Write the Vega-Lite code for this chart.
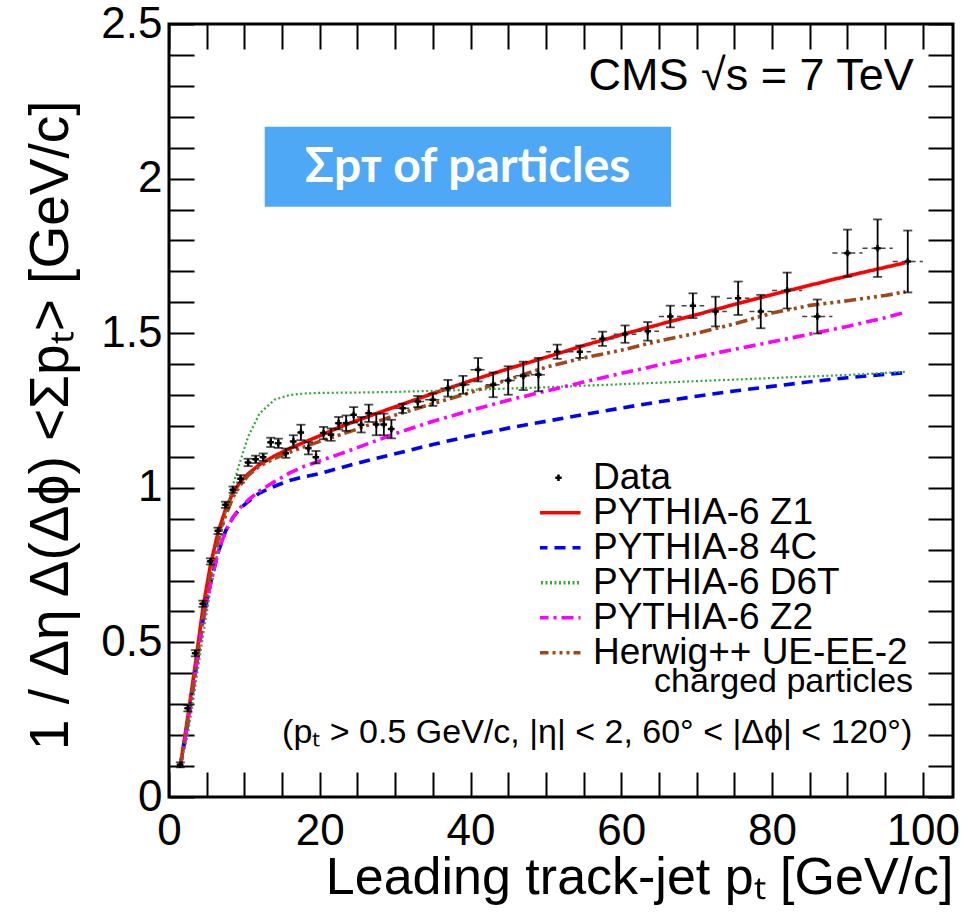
{
  "$schema": "https://vega.github.io/schema/vega-lite/v6.json",
  "width": 784,
  "height": 773,
  "autosize": {"type": "none"},
  "padding": {"left": 169, "top": 24, "right": 18, "bottom": 120},
  "background": "white",
  "config": {
    "view": {"stroke": "black", "strokeWidth": 3},
    "font": "Liberation Sans",
    "axis": {"labelFont": "Liberation Sans", "titleFont": "Liberation Sans", "labelColor": "black", "titleColor": "black", "titleFontWeight": "normal"}
  },
  "datasets": {
    "curves": [
      {"m": "PYTHIA-6 Z1", "x": 1.5, "y": 0.10}, {"m": "PYTHIA-6 Z1", "x": 2.5, "y": 0.26}, {"m": "PYTHIA-6 Z1", "x": 3.5, "y": 0.43}, {"m": "PYTHIA-6 Z1", "x": 4.5, "y": 0.61}, {"m": "PYTHIA-6 Z1", "x": 5.5, "y": 0.75}, {"m": "PYTHIA-6 Z1", "x": 6.5, "y": 0.855}, {"m": "PYTHIA-6 Z1", "x": 7.5, "y": 0.93}, {"m": "PYTHIA-6 Z1", "x": 8.5, "y": 0.985}, {"m": "PYTHIA-6 Z1", "x": 9.5, "y": 1.02}, {"m": "PYTHIA-6 Z1", "x": 10.5, "y": 1.045}, {"m": "PYTHIA-6 Z1", "x": 12, "y": 1.075}, {"m": "PYTHIA-6 Z1", "x": 14, "y": 1.103}, {"m": "PYTHIA-6 Z1", "x": 16, "y": 1.127}, {"m": "PYTHIA-6 Z1", "x": 18, "y": 1.148}, {"m": "PYTHIA-6 Z1", "x": 20, "y": 1.168}, {"m": "PYTHIA-6 Z1", "x": 22.5, "y": 1.195}, {"m": "PYTHIA-6 Z1", "x": 25, "y": 1.218}, {"m": "PYTHIA-6 Z1", "x": 30, "y": 1.262}, {"m": "PYTHIA-6 Z1", "x": 35, "y": 1.305}, {"m": "PYTHIA-6 Z1", "x": 40, "y": 1.346}, {"m": "PYTHIA-6 Z1", "x": 45, "y": 1.385}, {"m": "PYTHIA-6 Z1", "x": 50, "y": 1.422}, {"m": "PYTHIA-6 Z1", "x": 55, "y": 1.46}, {"m": "PYTHIA-6 Z1", "x": 60, "y": 1.495}, {"m": "PYTHIA-6 Z1", "x": 65, "y": 1.528}, {"m": "PYTHIA-6 Z1", "x": 70, "y": 1.56}, {"m": "PYTHIA-6 Z1", "x": 75, "y": 1.593}, {"m": "PYTHIA-6 Z1", "x": 80, "y": 1.625}, {"m": "PYTHIA-6 Z1", "x": 85, "y": 1.655}, {"m": "PYTHIA-6 Z1", "x": 90, "y": 1.685}, {"m": "PYTHIA-6 Z1", "x": 95, "y": 1.713}, {"m": "PYTHIA-6 Z1", "x": 97.7, "y": 1.728},
      {"m": "PYTHIA-8 4C", "x": 1.5, "y": 0.10}, {"m": "PYTHIA-8 4C", "x": 2.5, "y": 0.24}, {"m": "PYTHIA-8 4C", "x": 3.5, "y": 0.40}, {"m": "PYTHIA-8 4C", "x": 4.5, "y": 0.57}, {"m": "PYTHIA-8 4C", "x": 5.5, "y": 0.69}, {"m": "PYTHIA-8 4C", "x": 6.5, "y": 0.79}, {"m": "PYTHIA-8 4C", "x": 7.5, "y": 0.86}, {"m": "PYTHIA-8 4C", "x": 8.5, "y": 0.905}, {"m": "PYTHIA-8 4C", "x": 9.5, "y": 0.935}, {"m": "PYTHIA-8 4C", "x": 10.5, "y": 0.955}, {"m": "PYTHIA-8 4C", "x": 12, "y": 0.983}, {"m": "PYTHIA-8 4C", "x": 14, "y": 1.005}, {"m": "PYTHIA-8 4C", "x": 16, "y": 1.024}, {"m": "PYTHIA-8 4C", "x": 18, "y": 1.036}, {"m": "PYTHIA-8 4C", "x": 20, "y": 1.046}, {"m": "PYTHIA-8 4C", "x": 22.5, "y": 1.063}, {"m": "PYTHIA-8 4C", "x": 25, "y": 1.08}, {"m": "PYTHIA-8 4C", "x": 30, "y": 1.11}, {"m": "PYTHIA-8 4C", "x": 35, "y": 1.14}, {"m": "PYTHIA-8 4C", "x": 40, "y": 1.168}, {"m": "PYTHIA-8 4C", "x": 45, "y": 1.193}, {"m": "PYTHIA-8 4C", "x": 50, "y": 1.215}, {"m": "PYTHIA-8 4C", "x": 55, "y": 1.237}, {"m": "PYTHIA-8 4C", "x": 60, "y": 1.258}, {"m": "PYTHIA-8 4C", "x": 65, "y": 1.278}, {"m": "PYTHIA-8 4C", "x": 70, "y": 1.296}, {"m": "PYTHIA-8 4C", "x": 75, "y": 1.313}, {"m": "PYTHIA-8 4C", "x": 80, "y": 1.328}, {"m": "PYTHIA-8 4C", "x": 85, "y": 1.343}, {"m": "PYTHIA-8 4C", "x": 90, "y": 1.356}, {"m": "PYTHIA-8 4C", "x": 95, "y": 1.367}, {"m": "PYTHIA-8 4C", "x": 97.7, "y": 1.372},
      {"m": "PYTHIA-6 D6T", "x": 1.5, "y": 0.10}, {"m": "PYTHIA-6 D6T", "x": 2.5, "y": 0.20}, {"m": "PYTHIA-6 D6T", "x": 3.5, "y": 0.36}, {"m": "PYTHIA-6 D6T", "x": 4.5, "y": 0.52}, {"m": "PYTHIA-6 D6T", "x": 5.5, "y": 0.67}, {"m": "PYTHIA-6 D6T", "x": 6.5, "y": 0.80}, {"m": "PYTHIA-6 D6T", "x": 7.5, "y": 0.92}, {"m": "PYTHIA-6 D6T", "x": 8.5, "y": 1.01}, {"m": "PYTHIA-6 D6T", "x": 9.5, "y": 1.09}, {"m": "PYTHIA-6 D6T", "x": 10.5, "y": 1.165}, {"m": "PYTHIA-6 D6T", "x": 12, "y": 1.24}, {"m": "PYTHIA-6 D6T", "x": 14, "y": 1.285}, {"m": "PYTHIA-6 D6T", "x": 16, "y": 1.30}, {"m": "PYTHIA-6 D6T", "x": 18, "y": 1.305}, {"m": "PYTHIA-6 D6T", "x": 20, "y": 1.307}, {"m": "PYTHIA-6 D6T", "x": 25, "y": 1.308}, {"m": "PYTHIA-6 D6T", "x": 30, "y": 1.31}, {"m": "PYTHIA-6 D6T", "x": 40, "y": 1.317}, {"m": "PYTHIA-6 D6T", "x": 50, "y": 1.325}, {"m": "PYTHIA-6 D6T", "x": 60, "y": 1.335}, {"m": "PYTHIA-6 D6T", "x": 70, "y": 1.345}, {"m": "PYTHIA-6 D6T", "x": 80, "y": 1.355}, {"m": "PYTHIA-6 D6T", "x": 90, "y": 1.365}, {"m": "PYTHIA-6 D6T", "x": 97.7, "y": 1.375},
      {"m": "PYTHIA-6 Z2", "x": 1.5, "y": 0.10}, {"m": "PYTHIA-6 Z2", "x": 2.5, "y": 0.24}, {"m": "PYTHIA-6 Z2", "x": 3.5, "y": 0.40}, {"m": "PYTHIA-6 Z2", "x": 4.5, "y": 0.57}, {"m": "PYTHIA-6 Z2", "x": 5.5, "y": 0.69}, {"m": "PYTHIA-6 Z2", "x": 6.5, "y": 0.79}, {"m": "PYTHIA-6 Z2", "x": 7.5, "y": 0.86}, {"m": "PYTHIA-6 Z2", "x": 8.5, "y": 0.905}, {"m": "PYTHIA-6 Z2", "x": 9.5, "y": 0.937}, {"m": "PYTHIA-6 Z2", "x": 10.5, "y": 0.96}, {"m": "PYTHIA-6 Z2", "x": 12, "y": 0.99}, {"m": "PYTHIA-6 Z2", "x": 14, "y": 1.02}, {"m": "PYTHIA-6 Z2", "x": 16, "y": 1.048}, {"m": "PYTHIA-6 Z2", "x": 18, "y": 1.07}, {"m": "PYTHIA-6 Z2", "x": 20, "y": 1.087}, {"m": "PYTHIA-6 Z2", "x": 22.5, "y": 1.108}, {"m": "PYTHIA-6 Z2", "x": 25, "y": 1.13}, {"m": "PYTHIA-6 Z2", "x": 30, "y": 1.175}, {"m": "PYTHIA-6 Z2", "x": 35, "y": 1.215}, {"m": "PYTHIA-6 Z2", "x": 40, "y": 1.25}, {"m": "PYTHIA-6 Z2", "x": 45, "y": 1.283}, {"m": "PYTHIA-6 Z2", "x": 50, "y": 1.313}, {"m": "PYTHIA-6 Z2", "x": 55, "y": 1.342}, {"m": "PYTHIA-6 Z2", "x": 60, "y": 1.37}, {"m": "PYTHIA-6 Z2", "x": 65, "y": 1.397}, {"m": "PYTHIA-6 Z2", "x": 70, "y": 1.423}, {"m": "PYTHIA-6 Z2", "x": 75, "y": 1.448}, {"m": "PYTHIA-6 Z2", "x": 80, "y": 1.472}, {"m": "PYTHIA-6 Z2", "x": 85, "y": 1.497}, {"m": "PYTHIA-6 Z2", "x": 90, "y": 1.522}, {"m": "PYTHIA-6 Z2", "x": 95, "y": 1.55}, {"m": "PYTHIA-6 Z2", "x": 97.7, "y": 1.568},
      {"m": "Herwig++ UE-EE-2", "x": 1.5, "y": 0.10}, {"m": "Herwig++ UE-EE-2", "x": 2.5, "y": 0.25}, {"m": "Herwig++ UE-EE-2", "x": 3.5, "y": 0.41}, {"m": "Herwig++ UE-EE-2", "x": 4.5, "y": 0.58}, {"m": "Herwig++ UE-EE-2", "x": 5.5, "y": 0.72}, {"m": "Herwig++ UE-EE-2", "x": 6.5, "y": 0.83}, {"m": "Herwig++ UE-EE-2", "x": 7.5, "y": 0.91}, {"m": "Herwig++ UE-EE-2", "x": 8.5, "y": 0.97}, {"m": "Herwig++ UE-EE-2", "x": 9.5, "y": 1.01}, {"m": "Herwig++ UE-EE-2", "x": 10.5, "y": 1.04}, {"m": "Herwig++ UE-EE-2", "x": 12, "y": 1.07}, {"m": "Herwig++ UE-EE-2", "x": 14, "y": 1.095}, {"m": "Herwig++ UE-EE-2", "x": 16, "y": 1.115}, {"m": "Herwig++ UE-EE-2", "x": 18, "y": 1.133}, {"m": "Herwig++ UE-EE-2", "x": 20, "y": 1.15}, {"m": "Herwig++ UE-EE-2", "x": 22.5, "y": 1.17}, {"m": "Herwig++ UE-EE-2", "x": 25, "y": 1.19}, {"m": "Herwig++ UE-EE-2", "x": 30, "y": 1.235}, {"m": "Herwig++ UE-EE-2", "x": 35, "y": 1.272}, {"m": "Herwig++ UE-EE-2", "x": 40, "y": 1.308}, {"m": "Herwig++ UE-EE-2", "x": 45, "y": 1.35}, {"m": "Herwig++ UE-EE-2", "x": 50, "y": 1.39}, {"m": "Herwig++ UE-EE-2", "x": 55, "y": 1.42}, {"m": "Herwig++ UE-EE-2", "x": 60, "y": 1.445}, {"m": "Herwig++ UE-EE-2", "x": 65, "y": 1.475}, {"m": "Herwig++ UE-EE-2", "x": 70, "y": 1.50}, {"m": "Herwig++ UE-EE-2", "x": 75, "y": 1.53}, {"m": "Herwig++ UE-EE-2", "x": 80, "y": 1.565}, {"m": "Herwig++ UE-EE-2", "x": 85, "y": 1.59}, {"m": "Herwig++ UE-EE-2", "x": 90, "y": 1.605}, {"m": "Herwig++ UE-EE-2", "x": 95, "y": 1.622}, {"m": "Herwig++ UE-EE-2", "x": 97.7, "y": 1.634}
    ],
    "points": [
      {"x": 1.5, "y": 0.104, "ylo": 0.096, "yhi": 0.112, "xlo": 1, "xhi": 2},
      {"x": 2.5, "y": 0.287, "ylo": 0.277, "yhi": 0.297, "xlo": 2, "xhi": 3},
      {"x": 3.5, "y": 0.465, "ylo": 0.455, "yhi": 0.475, "xlo": 3, "xhi": 4},
      {"x": 4.5, "y": 0.625, "ylo": 0.615, "yhi": 0.635, "xlo": 4, "xhi": 5},
      {"x": 5.5, "y": 0.762, "ylo": 0.752, "yhi": 0.772, "xlo": 5, "xhi": 6},
      {"x": 6.5, "y": 0.861, "ylo": 0.851, "yhi": 0.871, "xlo": 6, "xhi": 7},
      {"x": 7.5, "y": 0.945, "ylo": 0.935, "yhi": 0.955, "xlo": 7, "xhi": 8},
      {"x": 8.5, "y": 0.994, "ylo": 0.984, "yhi": 1.004, "xlo": 8, "xhi": 9},
      {"x": 9.5, "y": 1.029, "ylo": 1.017, "yhi": 1.041, "xlo": 9, "xhi": 10},
      {"x": 10.5, "y": 1.082, "ylo": 1.07, "yhi": 1.094, "xlo": 10, "xhi": 11},
      {"x": 11.5, "y": 1.092, "ylo": 1.08, "yhi": 1.104, "xlo": 11, "xhi": 12},
      {"x": 12.5, "y": 1.099, "ylo": 1.087, "yhi": 1.111, "xlo": 12, "xhi": 13},
      {"x": 13.5, "y": 1.147, "ylo": 1.132, "yhi": 1.162, "xlo": 13, "xhi": 14},
      {"x": 14.5, "y": 1.144, "ylo": 1.129, "yhi": 1.159, "xlo": 14, "xhi": 15},
      {"x": 15.5, "y": 1.112, "ylo": 1.097, "yhi": 1.127, "xlo": 15, "xhi": 16},
      {"x": 16.5, "y": 1.15, "ylo": 1.13, "yhi": 1.17, "xlo": 16, "xhi": 17},
      {"x": 17.5, "y": 1.179, "ylo": 1.154, "yhi": 1.204, "xlo": 17, "xhi": 18},
      {"x": 18.5, "y": 1.128, "ylo": 1.108, "yhi": 1.148, "xlo": 18, "xhi": 19},
      {"x": 19.5, "y": 1.099, "ylo": 1.079, "yhi": 1.119, "xlo": 19, "xhi": 20},
      {"x": 20.5, "y": 1.177, "ylo": 1.157, "yhi": 1.197, "xlo": 20, "xhi": 21},
      {"x": 21.5, "y": 1.172, "ylo": 1.152, "yhi": 1.192, "xlo": 21, "xhi": 22},
      {"x": 22.5, "y": 1.209, "ylo": 1.189, "yhi": 1.229, "xlo": 22, "xhi": 23},
      {"x": 23.5, "y": 1.209, "ylo": 1.184, "yhi": 1.234, "xlo": 23, "xhi": 24},
      {"x": 24.5, "y": 1.236, "ylo": 1.211, "yhi": 1.261, "xlo": 24, "xhi": 25},
      {"x": 25.5, "y": 1.204, "ylo": 1.179, "yhi": 1.229, "xlo": 25, "xhi": 26},
      {"x": 26.5, "y": 1.241, "ylo": 1.213, "yhi": 1.269, "xlo": 26, "xhi": 27},
      {"x": 27.5, "y": 1.205, "ylo": 1.17, "yhi": 1.24, "xlo": 27, "xhi": 28},
      {"x": 28.5, "y": 1.205, "ylo": 1.17, "yhi": 1.24, "xlo": 28, "xhi": 29},
      {"x": 29.5, "y": 1.19, "ylo": 1.16, "yhi": 1.22, "xlo": 29, "xhi": 30},
      {"x": 31, "y": 1.257, "ylo": 1.242, "yhi": 1.272, "xlo": 30, "xhi": 32},
      {"x": 33, "y": 1.279, "ylo": 1.261, "yhi": 1.297, "xlo": 32, "xhi": 34},
      {"x": 35, "y": 1.285, "ylo": 1.265, "yhi": 1.305, "xlo": 34, "xhi": 36},
      {"x": 37, "y": 1.322, "ylo": 1.295, "yhi": 1.349, "xlo": 36, "xhi": 38},
      {"x": 39, "y": 1.333, "ylo": 1.304, "yhi": 1.362, "xlo": 38, "xhi": 40},
      {"x": 41, "y": 1.382, "ylo": 1.344, "yhi": 1.42, "xlo": 40, "xhi": 42},
      {"x": 43, "y": 1.333, "ylo": 1.293, "yhi": 1.373, "xlo": 42, "xhi": 44},
      {"x": 45, "y": 1.347, "ylo": 1.301, "yhi": 1.393, "xlo": 44, "xhi": 46},
      {"x": 47, "y": 1.362, "ylo": 1.316, "yhi": 1.408, "xlo": 46, "xhi": 48},
      {"x": 49, "y": 1.366, "ylo": 1.312, "yhi": 1.42, "xlo": 48, "xhi": 50},
      {"x": 51.5, "y": 1.44, "ylo": 1.417, "yhi": 1.463, "xlo": 50, "xhi": 53},
      {"x": 54.5, "y": 1.44, "ylo": 1.42, "yhi": 1.46, "xlo": 53, "xhi": 56},
      {"x": 57.5, "y": 1.482, "ylo": 1.459, "yhi": 1.505, "xlo": 56, "xhi": 59},
      {"x": 60.5, "y": 1.497, "ylo": 1.469, "yhi": 1.525, "xlo": 59, "xhi": 62},
      {"x": 63.5, "y": 1.506, "ylo": 1.476, "yhi": 1.536, "xlo": 62, "xhi": 65},
      {"x": 66.5, "y": 1.554, "ylo": 1.519, "yhi": 1.589, "xlo": 65, "xhi": 68},
      {"x": 69.5, "y": 1.589, "ylo": 1.549, "yhi": 1.629, "xlo": 68, "xhi": 71},
      {"x": 72.5, "y": 1.57, "ylo": 1.522, "yhi": 1.618, "xlo": 71, "xhi": 74},
      {"x": 75.5, "y": 1.613, "ylo": 1.559, "yhi": 1.667, "xlo": 74, "xhi": 77},
      {"x": 78.5, "y": 1.57, "ylo": 1.516, "yhi": 1.624, "xlo": 77, "xhi": 80},
      {"x": 82, "y": 1.638, "ylo": 1.58, "yhi": 1.696, "xlo": 80, "xhi": 84},
      {"x": 86, "y": 1.554, "ylo": 1.499, "yhi": 1.609, "xlo": 84, "xhi": 88},
      {"x": 90, "y": 1.759, "ylo": 1.683, "yhi": 1.835, "xlo": 88, "xhi": 92},
      {"x": 94, "y": 1.775, "ylo": 1.682, "yhi": 1.868, "xlo": 92, "xhi": 96},
      {"x": 98, "y": 1.732, "ylo": 1.632, "yhi": 1.832, "xlo": 96, "xhi": 100}
    ]
  },
  "layer": [
    {
      "data": {"values": [{}]},
      "mark": {"type": "rect", "color": "#4fa8f6"},
      "encoding": {
        "x": {"datum": 12.7, "type": "quantitative", "scale": {"domain": [0, 104], "nice": false, "zero": false}, "axis": null},
        "x2": {"datum": 66.6},
        "y": {"datum": 2.168, "type": "quantitative", "scale": {"domain": [0, 2.5], "nice": false, "zero": false}, "axis": null},
        "y2": {"datum": 1.909}
      }
    },
    {
      "data": {"values": [{}]},
      "mark": {"type": "text", "text": "Σpᴛ of particles", "font": "Lato", "fontWeight": "bold", "fontSize": 48, "color": "white", "align": "center", "baseline": "middle"},
      "encoding": {
        "x": {"datum": 39.6, "type": "quantitative", "scale": {"domain": [0, 104], "nice": false, "zero": false}, "axis": null},
        "y": {"datum": 2.035, "type": "quantitative", "scale": {"domain": [0, 2.5], "nice": false, "zero": false}, "axis": null}
      }
    },
    {
      "data": {"name": "curves"},
      "mark": {"type": "line", "strokeCap": "butt"},
      "encoding": {
        "x": {"field": "x", "type": "quantitative", "scale": {"domain": [0, 104], "nice": false, "zero": false},
          "axis": {"orient": "bottom", "values": [0,5,10,15,20,25,30,35,40,45,50,55,60,65,70,75,80,85,90,95,100], "domain": false, "grid": false, "ticks": true, "tickSize": -25, "tickWidth": 2, "tickColor": "black",
            "encode": {"ticks": {"update": {"y2": {"signal": "datum.value % 20 === 0 ? -25 : -12"}}}},
            "labelExpr": "datum.value % 20 === 0 ? datum.label : ''", "labelFontSize": 44, "labelPadding": 37, "labelFlush": false, "labelOverlap": false,
            "title": "Leading track-jet pₜ [GeV/c]", "titleFontSize": 52, "titleAlign": "right", "titleAnchor": "end", "titleX": 784, "titleY": 96, "titleBaseline": "alphabetic"}},
        "y": {"field": "y", "type": "quantitative", "scale": {"domain": [0, 2.5], "nice": false, "zero": false},
          "axis": {"orient": "left", "values": [0,0.1,0.2,0.3,0.4,0.5,0.6,0.7,0.8,0.9,1,1.1,1.2,1.3,1.4,1.5,1.6,1.7,1.8,1.9,2,2.1,2.2,2.3,2.4,2.5], "domain": false, "grid": false, "ticks": true, "tickSize": -25, "tickWidth": 2, "tickColor": "black",
            "encode": {"ticks": {"update": {"x2": {"signal": "round(datum.value*10) % 5 === 0 ? 25 : 13"}}}},
            "labelExpr": "round(datum.value*10) % 5 === 0 ? format(datum.value, '~g') : ''", "labelFontSize": 44, "labelPadding": 32, "labelFlush": false, "labelOverlap": false,
            "title": "1 / Δη Δ(Δϕ) <Σpₜ> [GeV/c]", "titleFontSize": 55, "titleAngle": -90, "titleAlign": "right", "titleX": -102, "titleY": 76, "titleBaseline": "alphabetic"}},
        "color": {"field": "m", "type": "nominal",
          "scale": {"domain": ["Data", "PYTHIA-6 Z1", "PYTHIA-8 4C", "PYTHIA-6 D6T", "PYTHIA-6 Z2", "Herwig++ UE-EE-2"], "range": ["black", "#ff0000", "#0000ff", "#33aa33", "#ff00ff", "#a0481a"]},
          "legend": {"orient": "none", "legendX": 371, "legendY": 438, "title": null, "padding": 0, "labelFontSize": 37, "labelFont": "Liberation Sans", "labelColor": "black", "labelOffset": 16, "labelLimit": 600, "symbolType": "stroke", "symbolSize": 1936, "symbolStrokeWidth": 3.5, "rowPadding": -3, "clipHeight": 31.5,
            "encode": {"symbols": {"update": {"shape": {"signal": "datum.value === 'Data' ? 'cross' : 'stroke'"}, "size": {"signal": "datum.value === 'Data' ? 40 : 1936"}, "fill": {"signal": "datum.value === 'Data' ? 'black' : 'transparent'"}, "strokeWidth": {"signal": "datum.value === 'Data' ? 0 : 3.5"}}}}}},
        "strokeDash": {"field": "m", "type": "nominal",
          "scale": {"domain": ["Data", "PYTHIA-6 Z1", "PYTHIA-8 4C", "PYTHIA-6 D6T", "PYTHIA-6 Z2", "Herwig++ UE-EE-2"], "range": [[1, 0], [1, 0], [11, 7], [2, 2.5], [12, 5, 3, 5], [12, 4, 3, 4, 3, 4, 3, 4]]},
          "legend": {"orient": "none", "legendX": 371, "legendY": 438, "title": null, "padding": 0, "labelFontSize": 37, "labelFont": "Liberation Sans", "labelColor": "black", "labelOffset": 16, "labelLimit": 600, "symbolType": "stroke", "symbolSize": 1936, "symbolStrokeWidth": 3.5, "rowPadding": -3, "clipHeight": 31.5,
            "encode": {"symbols": {"update": {"shape": {"signal": "datum.value === 'Data' ? 'cross' : 'stroke'"}, "size": {"signal": "datum.value === 'Data' ? 40 : 1936"}, "fill": {"signal": "datum.value === 'Data' ? 'black' : 'transparent'"}, "strokeWidth": {"signal": "datum.value === 'Data' ? 0 : 3.5"}}}}}},
        "strokeWidth": {"condition": {"test": "datum.m === 'PYTHIA-6 D6T'", "value": 2.2}, "value": 3.6}
      }
    },
    {
      "data": {"name": "points"},
      "mark": {"type": "rule", "color": "#444444", "strokeWidth": 1.5, "strokeDash": [5, 4]},
      "encoding": {
        "x": {"field": "xlo", "type": "quantitative", "scale": {"domain": [0, 104], "nice": false, "zero": false}, "axis": null},
        "x2": {"field": "xhi"},
        "y": {"field": "y", "type": "quantitative", "scale": {"domain": [0, 2.5], "nice": false, "zero": false}, "axis": null}
      }
    },
    {
      "data": {"name": "points"},
      "mark": {"type": "errorbar", "ticks": true, "size": 9, "thickness": 1.8, "color": "black"},
      "encoding": {
        "x": {"field": "x", "type": "quantitative", "scale": {"domain": [0, 104], "nice": false, "zero": false}, "axis": null},
        "y": {"field": "ylo", "type": "quantitative", "scale": {"domain": [0, 2.5], "nice": false, "zero": false}, "axis": null},
        "y2": {"field": "yhi"}
      }
    },
    {
      "data": {"name": "points"},
      "mark": {"type": "point", "shape": "cross", "filled": true, "size": 40, "color": "black", "opacity": 1},
      "encoding": {
        "x": {"field": "x", "type": "quantitative", "scale": {"domain": [0, 104], "nice": false, "zero": false},
          "axis": {"orient": "top", "values": [0,5,10,15,20,25,30,35,40,45,50,55,60,65,70,75,80,85,90,95,100], "labels": false, "domain": false, "grid": false, "ticks": true, "tickSize": -25, "tickWidth": 2, "tickColor": "black", "title": null,
            "encode": {"ticks": {"update": {"y2": {"signal": "datum.value % 20 === 0 ? 25 : 12"}}}}}},
        "y": {"field": "y", "type": "quantitative", "scale": {"domain": [0, 2.5], "nice": false, "zero": false},
          "axis": {"orient": "right", "values": [0,0.1,0.2,0.3,0.4,0.5,0.6,0.7,0.8,0.9,1,1.1,1.2,1.3,1.4,1.5,1.6,1.7,1.8,1.9,2,2.1,2.2,2.3,2.4,2.5], "labels": false, "domain": false, "grid": false, "ticks": true, "tickSize": -25, "tickWidth": 2, "tickColor": "black", "title": null,
            "encode": {"ticks": {"update": {"x2": {"signal": "round(datum.value*10) % 5 === 0 ? -25 : -13"}}}}}}
      }
    },
    {
      "data": {"values": [{}]},
      "mark": {"type": "text", "text": "CMS √s = 7 TeV", "font": "Liberation Sans", "fontSize": 45, "color": "black", "align": "right", "baseline": "alphabetic"},
      "encoding": {
        "x": {"datum": 98.8, "type": "quantitative", "scale": {"domain": [0, 104], "nice": false, "zero": false}, "axis": null},
        "y": {"datum": 2.288, "type": "quantitative", "scale": {"domain": [0, 2.5], "nice": false, "zero": false}, "axis": null}
      }
    },
    {
      "data": {"values": [{}]},
      "mark": {"type": "text", "text": "charged particles", "font": "Liberation Sans", "fontSize": 34, "color": "black", "align": "right", "baseline": "alphabetic"},
      "encoding": {
        "x": {"datum": 98.7, "type": "quantitative", "scale": {"domain": [0, 104], "nice": false, "zero": false}, "axis": null},
        "y": {"datum": 0.34, "type": "quantitative", "scale": {"domain": [0, 2.5], "nice": false, "zero": false}, "axis": null}
      }
    },
    {
      "data": {"values": [{}]},
      "mark": {"type": "text", "text": "(pₜ > 0.5 GeV/c, |η| < 2, 60° < |Δϕ| < 120°)", "font": "Liberation Sans", "fontSize": 34, "color": "black", "align": "right", "baseline": "alphabetic"},
      "encoding": {
        "x": {"datum": 98.6, "type": "quantitative", "scale": {"domain": [0, 104], "nice": false, "zero": false}, "axis": null},
        "y": {"datum": 0.175, "type": "quantitative", "scale": {"domain": [0, 2.5], "nice": false, "zero": false}, "axis": null}
      }
    }
  ],
  "resolve": {"axis": {"x": "independent", "y": "independent"}}
}
